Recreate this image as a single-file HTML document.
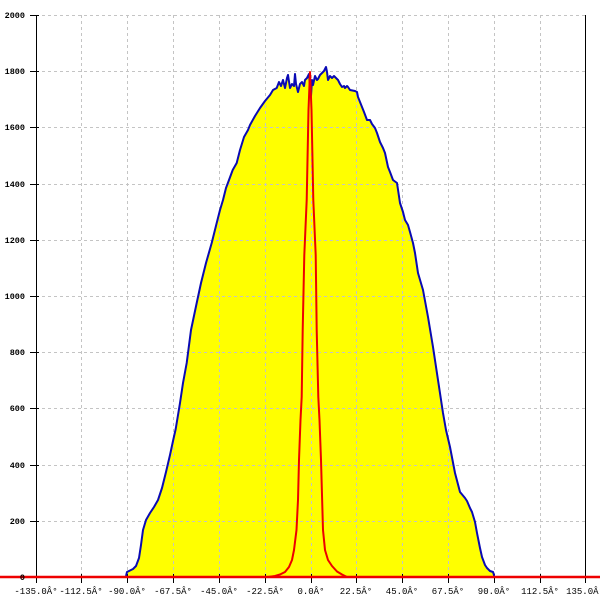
<!DOCTYPE html>
<html><head><meta charset="utf-8"><style>
html,body{margin:0;padding:0;background:#fff;}
svg{display:block;}
text{font-family:"Liberation Mono","DejaVu Sans Mono",monospace;fill:#000;}
</style></head><body>
<svg width="600" height="600" viewBox="0 0 600 600" xmlns="http://www.w3.org/2000/svg">
<rect width="600" height="600" fill="#fff"/>
<!-- yellow fill -->
<polygon fill="#ffff00" stroke="none" points="126,577 126,576 127,572 130,570.5 133,569 136,566 139,558 141,545 143,530 146,520 150,513 154,507 158,500 162,488 166,472 170,455 173,441 175.7,429 180,403 183,383 186.7,363 191,330 196.7,303 201,283 206,263 211.7,243 216.7,223 220,210 223,200 226,188 229,180 232.7,170 236.7,163 240,150 244,137 248,130 250,125 255,116 260,108 265,101 270,95 273,90 276.7,88 279,82 281,86 283,80 285,88 287,78 288,75 290,88 292,84 294,86 295,74 296,84 298,92 300,84 302,82 304,86 305,80 307,78 309,74 310,86 311,96 312,80 313,85 315,76 317,80 318,79 320,75 322,73 324,71 326,67 327,72 328,80 330,76 332,78 334,76 335,77 337,79 338,80 340,84 342,87 344,86 345,88 347,86 348,87 350,90 355,91 357,92 358,97 360,102 362,107 364,112 367,120 370,120 372,124 375,128 377,133 380,142 383,148 385,153 388,167 390,172 393,180 397,183 400,203 403,212 405,220 408,225 410,232 413,243 415,253 418,273 423,290 428,317 433,347 438,380 443,413 446,430 450,447 455,473 460,492 465,498 467,501 470,508 472,512 475,522 477,533 480,548 482,557 485,565 487,568 490,571 493,572 494,575 494,577"/>
<!-- grid -->
<g stroke="#c4c4c4" stroke-width="1" stroke-dasharray="3,3" fill="none">
<line x1="36" y1="15.5" x2="586" y2="15.5"/>
<line x1="36" y1="71.5" x2="586" y2="71.5"/>
<line x1="36" y1="127.5" x2="586" y2="127.5"/>
<line x1="36" y1="184.5" x2="586" y2="184.5"/>
<line x1="36" y1="240.5" x2="586" y2="240.5"/>
<line x1="36" y1="296.5" x2="586" y2="296.5"/>
<line x1="36" y1="352.5" x2="586" y2="352.5"/>
<line x1="36" y1="408.5" x2="586" y2="408.5"/>
<line x1="36" y1="465.5" x2="586" y2="465.5"/>
<line x1="36" y1="521.5" x2="586" y2="521.5"/>
<line x1="81.5" y1="15" x2="81.5" y2="577"/>
<line x1="127.5" y1="15" x2="127.5" y2="577"/>
<line x1="173.5" y1="15" x2="173.5" y2="577"/>
<line x1="219.5" y1="15" x2="219.5" y2="577"/>
<line x1="265.5" y1="15" x2="265.5" y2="577"/>
<line x1="311.5" y1="15" x2="311.5" y2="577"/>
<line x1="356.5" y1="15" x2="356.5" y2="577"/>
<line x1="402.5" y1="15" x2="402.5" y2="577"/>
<line x1="448.5" y1="15" x2="448.5" y2="577"/>
<line x1="494.5" y1="15" x2="494.5" y2="577"/>
<line x1="540.5" y1="15" x2="540.5" y2="577"/>
</g>
<!-- axes -->
<g stroke="#000" stroke-width="1" fill="none">
<line x1="36.5" y1="15" x2="36.5" y2="583"/>
<line x1="585.5" y1="15" x2="585.5" y2="583"/>
<line x1="36" y1="577.5" x2="586" y2="577.5"/>
<line x1="30" y1="15.5" x2="39" y2="15.5"/>
<line x1="30" y1="71.5" x2="39" y2="71.5"/>
<line x1="30" y1="127.5" x2="39" y2="127.5"/>
<line x1="30" y1="184.5" x2="39" y2="184.5"/>
<line x1="30" y1="240.5" x2="39" y2="240.5"/>
<line x1="30" y1="296.5" x2="39" y2="296.5"/>
<line x1="30" y1="352.5" x2="39" y2="352.5"/>
<line x1="30" y1="408.5" x2="39" y2="408.5"/>
<line x1="30" y1="465.5" x2="39" y2="465.5"/>
<line x1="30" y1="521.5" x2="39" y2="521.5"/>
<line x1="30" y1="577.5" x2="39" y2="577.5"/>
<line x1="81.5" y1="574" x2="81.5" y2="583"/>
<line x1="127.5" y1="574" x2="127.5" y2="583"/>
<line x1="173.5" y1="574" x2="173.5" y2="583"/>
<line x1="219.5" y1="574" x2="219.5" y2="583"/>
<line x1="265.5" y1="574" x2="265.5" y2="583"/>
<line x1="311.5" y1="574" x2="311.5" y2="583"/>
<line x1="356.5" y1="574" x2="356.5" y2="583"/>
<line x1="402.5" y1="574" x2="402.5" y2="583"/>
<line x1="448.5" y1="574" x2="448.5" y2="583"/>
<line x1="494.5" y1="574" x2="494.5" y2="583"/>
<line x1="540.5" y1="574" x2="540.5" y2="583"/>
</g>
<!-- blue line -->
<polyline fill="none" stroke="#0a0ab4" stroke-width="2" stroke-linejoin="round" points="126,576 127,572 130,570.5 133,569 136,566 139,558 141,545 143,530 146,520 150,513 154,507 158,500 162,488 166,472 170,455 173,441 175.7,429 180,403 183,383 186.7,363 191,330 196.7,303 201,283 206,263 211.7,243 216.7,223 220,210 223,200 226,188 229,180 232.7,170 236.7,163 240,150 244,137 248,130 250,125 255,116 260,108 265,101 270,95 273,90 276.7,88 279,82 281,86 283,80 285,88 287,78 288,75 290,88 292,84 294,86 295,74 296,84 298,92 300,84 302,82 304,86 305,80 307,78 309,74 310,86 311,96 312,80 313,85 315,76 317,80 318,79 320,75 322,73 324,71 326,67 327,72 328,80 330,76 332,78 334,76 335,77 337,79 338,80 340,84 342,87 344,86 345,88 347,86 348,87 350,90 355,91 357,92 358,97 360,102 362,107 364,112 367,120 370,120 372,124 375,128 377,133 380,142 383,148 385,153 388,167 390,172 393,180 397,183 400,203 403,212 405,220 408,225 410,232 413,243 415,253 418,273 423,290 428,317 433,347 438,380 443,413 446,430 450,447 455,473 460,492 465,498 467,501 470,508 472,512 475,522 477,533 480,548 482,557 485,565 487,568 490,571 493,572 494,575 494,577"/>
<!-- red baseline and peak -->
<line x1="0" y1="577" x2="600" y2="577" stroke="#ee0000" stroke-width="2.4"/>
<polyline fill="none" stroke="#ee0000" stroke-width="2" stroke-linejoin="round" points="268,577 275,576 280,574.5 285,572 289,567 292,560 294,550 296.5,530 298,500 299,460 300.5,420 301.7,397 302.7,330 304.3,255 306.7,200 308.5,110 310,72 311.5,110 313.3,200 315.7,255 316.7,330 318.3,397 319.5,420 321,460 323,530 325,550 328,560 332,566 337,571.5 342,574.5 347,577"/>
<!-- y labels -->
<g font-size="8.5" font-weight="bold" text-anchor="end">
<text x="25" y="18">2000</text>
<text x="25" y="74">1800</text>
<text x="25" y="130">1600</text>
<text x="25" y="187">1400</text>
<text x="25" y="243">1200</text>
<text x="25" y="299">1000</text>
<text x="25" y="355">800</text>
<text x="25" y="411">600</text>
<text x="25" y="468">400</text>
<text x="25" y="524">200</text>
<text x="25" y="580">0</text>
</g>
<!-- x labels -->
<g font-size="9" text-anchor="middle">
<text x="36" y="594">-135.0Â°</text>
<text x="81" y="594">-112.5Â°</text>
<text x="127" y="594">-90.0Â°</text>
<text x="173" y="594">-67.5Â°</text>
<text x="219" y="594">-45.0Â°</text>
<text x="265" y="594">-22.5Â°</text>
<text x="311" y="594">0.0Â°</text>
<text x="356" y="594">22.5Â°</text>
<text x="402" y="594">45.0Â°</text>
<text x="448" y="594">67.5Â°</text>
<text x="494" y="594">90.0Â°</text>
<text x="540" y="594">112.5Â°</text>
<text x="585" y="594">135.0Â°</text>
</g>
</svg>
</body></html>
